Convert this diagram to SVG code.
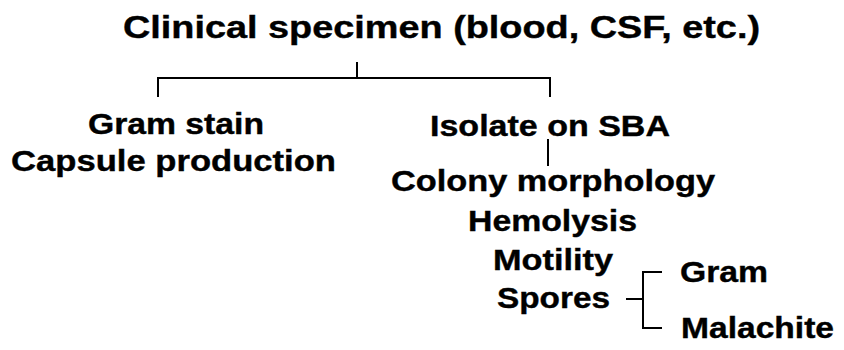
<svg xmlns="http://www.w3.org/2000/svg" width="844" height="350" viewBox="0 0 844 350">
<style>
text{font-family:"Liberation Sans",Arial,Helvetica,sans-serif;font-weight:bold;fill:#000;stroke:#000;stroke-width:0.4;}
.t{font-size:32px;}
.n{font-size:30px;}
.c{fill:none;stroke:#000;stroke-width:2;}
</style>
<rect width="844" height="350" fill="#fff"/>
<g id="connectors">
<path class="c" d="M357 62V78M158 97V78H550V97"/>
<path class="c" d="M548 139V166"/>
<path class="c" d="M626 299H643M662 272H643V328H662"/>
</g>
<g id="n-title"><text class="t" x="123" y="38" textLength="637" lengthAdjust="spacingAndGlyphs">Clinical specimen (blood, CSF, etc.)</text></g>
<g id="n-gramstain"><text class="n" x="88" y="134" textLength="176" lengthAdjust="spacingAndGlyphs">Gram stain</text></g>
<g id="n-capsule"><text class="n" x="11" y="171" textLength="325" lengthAdjust="spacingAndGlyphs">Capsule production</text></g>
<g id="n-isolate"><text class="n" x="430" y="136" textLength="240" lengthAdjust="spacingAndGlyphs">Isolate on SBA</text></g>
<g id="n-colony"><text class="n" x="391" y="191" textLength="324" lengthAdjust="spacingAndGlyphs">Colony morphology</text></g>
<g id="n-hemolysis"><text class="n" x="468" y="231" textLength="169" lengthAdjust="spacingAndGlyphs">Hemolysis</text></g>
<g id="n-motility"><text class="n" x="493" y="270" textLength="120" lengthAdjust="spacingAndGlyphs">Motility</text></g>
<g id="n-spores"><text class="n" x="497" y="308" textLength="113" lengthAdjust="spacingAndGlyphs">Spores</text></g>
<g id="n-gram"><text class="n" x="680" y="282" textLength="88" lengthAdjust="spacingAndGlyphs">Gram</text></g>
<g id="n-malachite"><text class="n" x="681" y="338" textLength="153" lengthAdjust="spacingAndGlyphs">Malachite</text></g>
</svg>
